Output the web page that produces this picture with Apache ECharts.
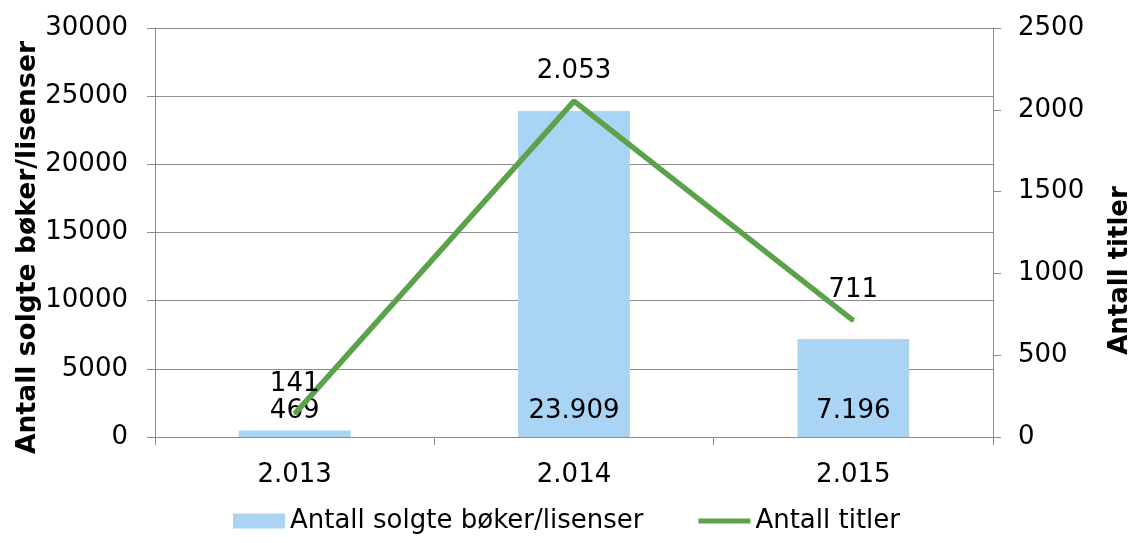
<!DOCTYPE html>
<html>
<head>
<meta charset="utf-8">
<script src="https://cdn.jsdelivr.net/npm/echarts@6/dist/echarts.min.js"></script>
<style>
  html, body { margin: 0; padding: 0; background: #fff; }
  #chart { width: 1133px; height: 543px; }
</style>
</head>
<body>
<div id="chart"></div>
<script>
// data
var years = ['2.013', '2.014', '2.015'];
var soldBooks = [469, 23909, 7196];
var titles = [141, 2053, 711];
var leftTicks = { min: 0, max: 30000, interval: 5000 };
var rightTicks = { min: 0, max: 2500, interval: 500 };

var font = 'DejaVu Sans';
var grey = '#8c8c8c';

// 23909 -> "23.909"
function dotted(v) {
    return String(v).replace(/\B(?=(\d{3})+(?!\d))/g, '.');
}
// axis ticks have no separator
function plain(v) {
    return String(v);
}

var myChart = echarts.init(document.getElementById('chart'));

var option = {
    animation: false,
    textStyle: { fontFamily: font, color: '#000' },
    grid: { left: 155, right: 140, top: 28, bottom: 106, outerBoundsMode: 'none', containLabel: false },
    legend: {
        bottom: 4,
        left: 'center',
        itemWidth: 52,
        itemHeight: 15,
        itemGap: 55,
        textStyle: { fontFamily: font, fontSize: 26, color: '#000' },
        data: [
            { name: 'Antall solgte bøker/lisenser', icon: 'rect' },
            { name: 'Antall titler', icon: 'path://M0,0 L52,0 L52,5 L0,5 Z' }
        ]
    },
    xAxis: {
        type: 'category',
        data: years,
        axisLine: { lineStyle: { color: grey, width: 1 } },
        axisTick: { show: true, length: 8, lineStyle: { color: grey } },
        axisLabel: { margin: 25, fontSize: 26, color: '#000', fontFamily: font }
    },
    yAxis: [
        {
            type: 'value',
            min: leftTicks.min,
            max: leftTicks.max,
            interval: leftTicks.interval,
            name: 'Antall solgte bøker/lisenser',
            nameLocation: 'middle',
            nameGap: 113,
            nameMoveOverlap: false,
            nameTextStyle: { fontSize: 26.6, fontWeight: 'bold', color: '#000', fontFamily: font, padding: [0, 30, 0, 0] },
            axisLine: { show: true, lineStyle: { color: grey, width: 1 } },
            axisTick: { show: true, length: 8, lineStyle: { color: grey } },
            axisLabel: { margin: 27, fontSize: 26, color: '#000', fontFamily: font, formatter: plain },
            splitLine: { show: true, lineStyle: { color: grey, width: 1 } }
        },
        {
            type: 'value',
            min: rightTicks.min,
            max: rightTicks.max,
            interval: rightTicks.interval,
            name: 'Antall titler',
            nameLocation: 'middle',
            nameGap: 114,
            nameMoveOverlap: false,
            nameTextStyle: { fontSize: 26, fontWeight: 'bold', color: '#000', fontFamily: font, padding: [0, 76, 0, 0] },
            axisLine: { show: true, lineStyle: { color: grey, width: 1 } },
            axisTick: { show: true, length: 8, lineStyle: { color: grey } },
            axisLabel: { margin: 25, fontSize: 26, color: '#000', fontFamily: font, formatter: plain },
            splitLine: { show: false }
        }
    ],
    series: [
        {
            name: 'Antall solgte bøker/lisenser',
            type: 'bar',
            data: soldBooks,
            barWidth: '40%',
            itemStyle: { color: '#a9d4f4' },
            label: {
                show: true,
                position: 'insideBottom',
                distance: 13,
                fontSize: 26,
                color: '#000',
                fontFamily: font,
                formatter: function (p) { return dotted(p.value); }
            }
        },
        {
            name: 'Antall titler',
            type: 'line',
            yAxisIndex: 1,
            data: titles,
            symbol: 'circle',
            symbolSize: 2,
            itemStyle: { color: '#5ba24a' },
            lineStyle: { color: '#5ba24a', width: 5.5 },
            label: {
                show: true,
                position: 'top',
                distance: 16,
                fontSize: 26,
                color: '#000',
                fontFamily: font,
                formatter: function (p) { return dotted(p.value); }
            }
        }
    ]
};

myChart.setOption(option);
</script>
</body>
</html>
